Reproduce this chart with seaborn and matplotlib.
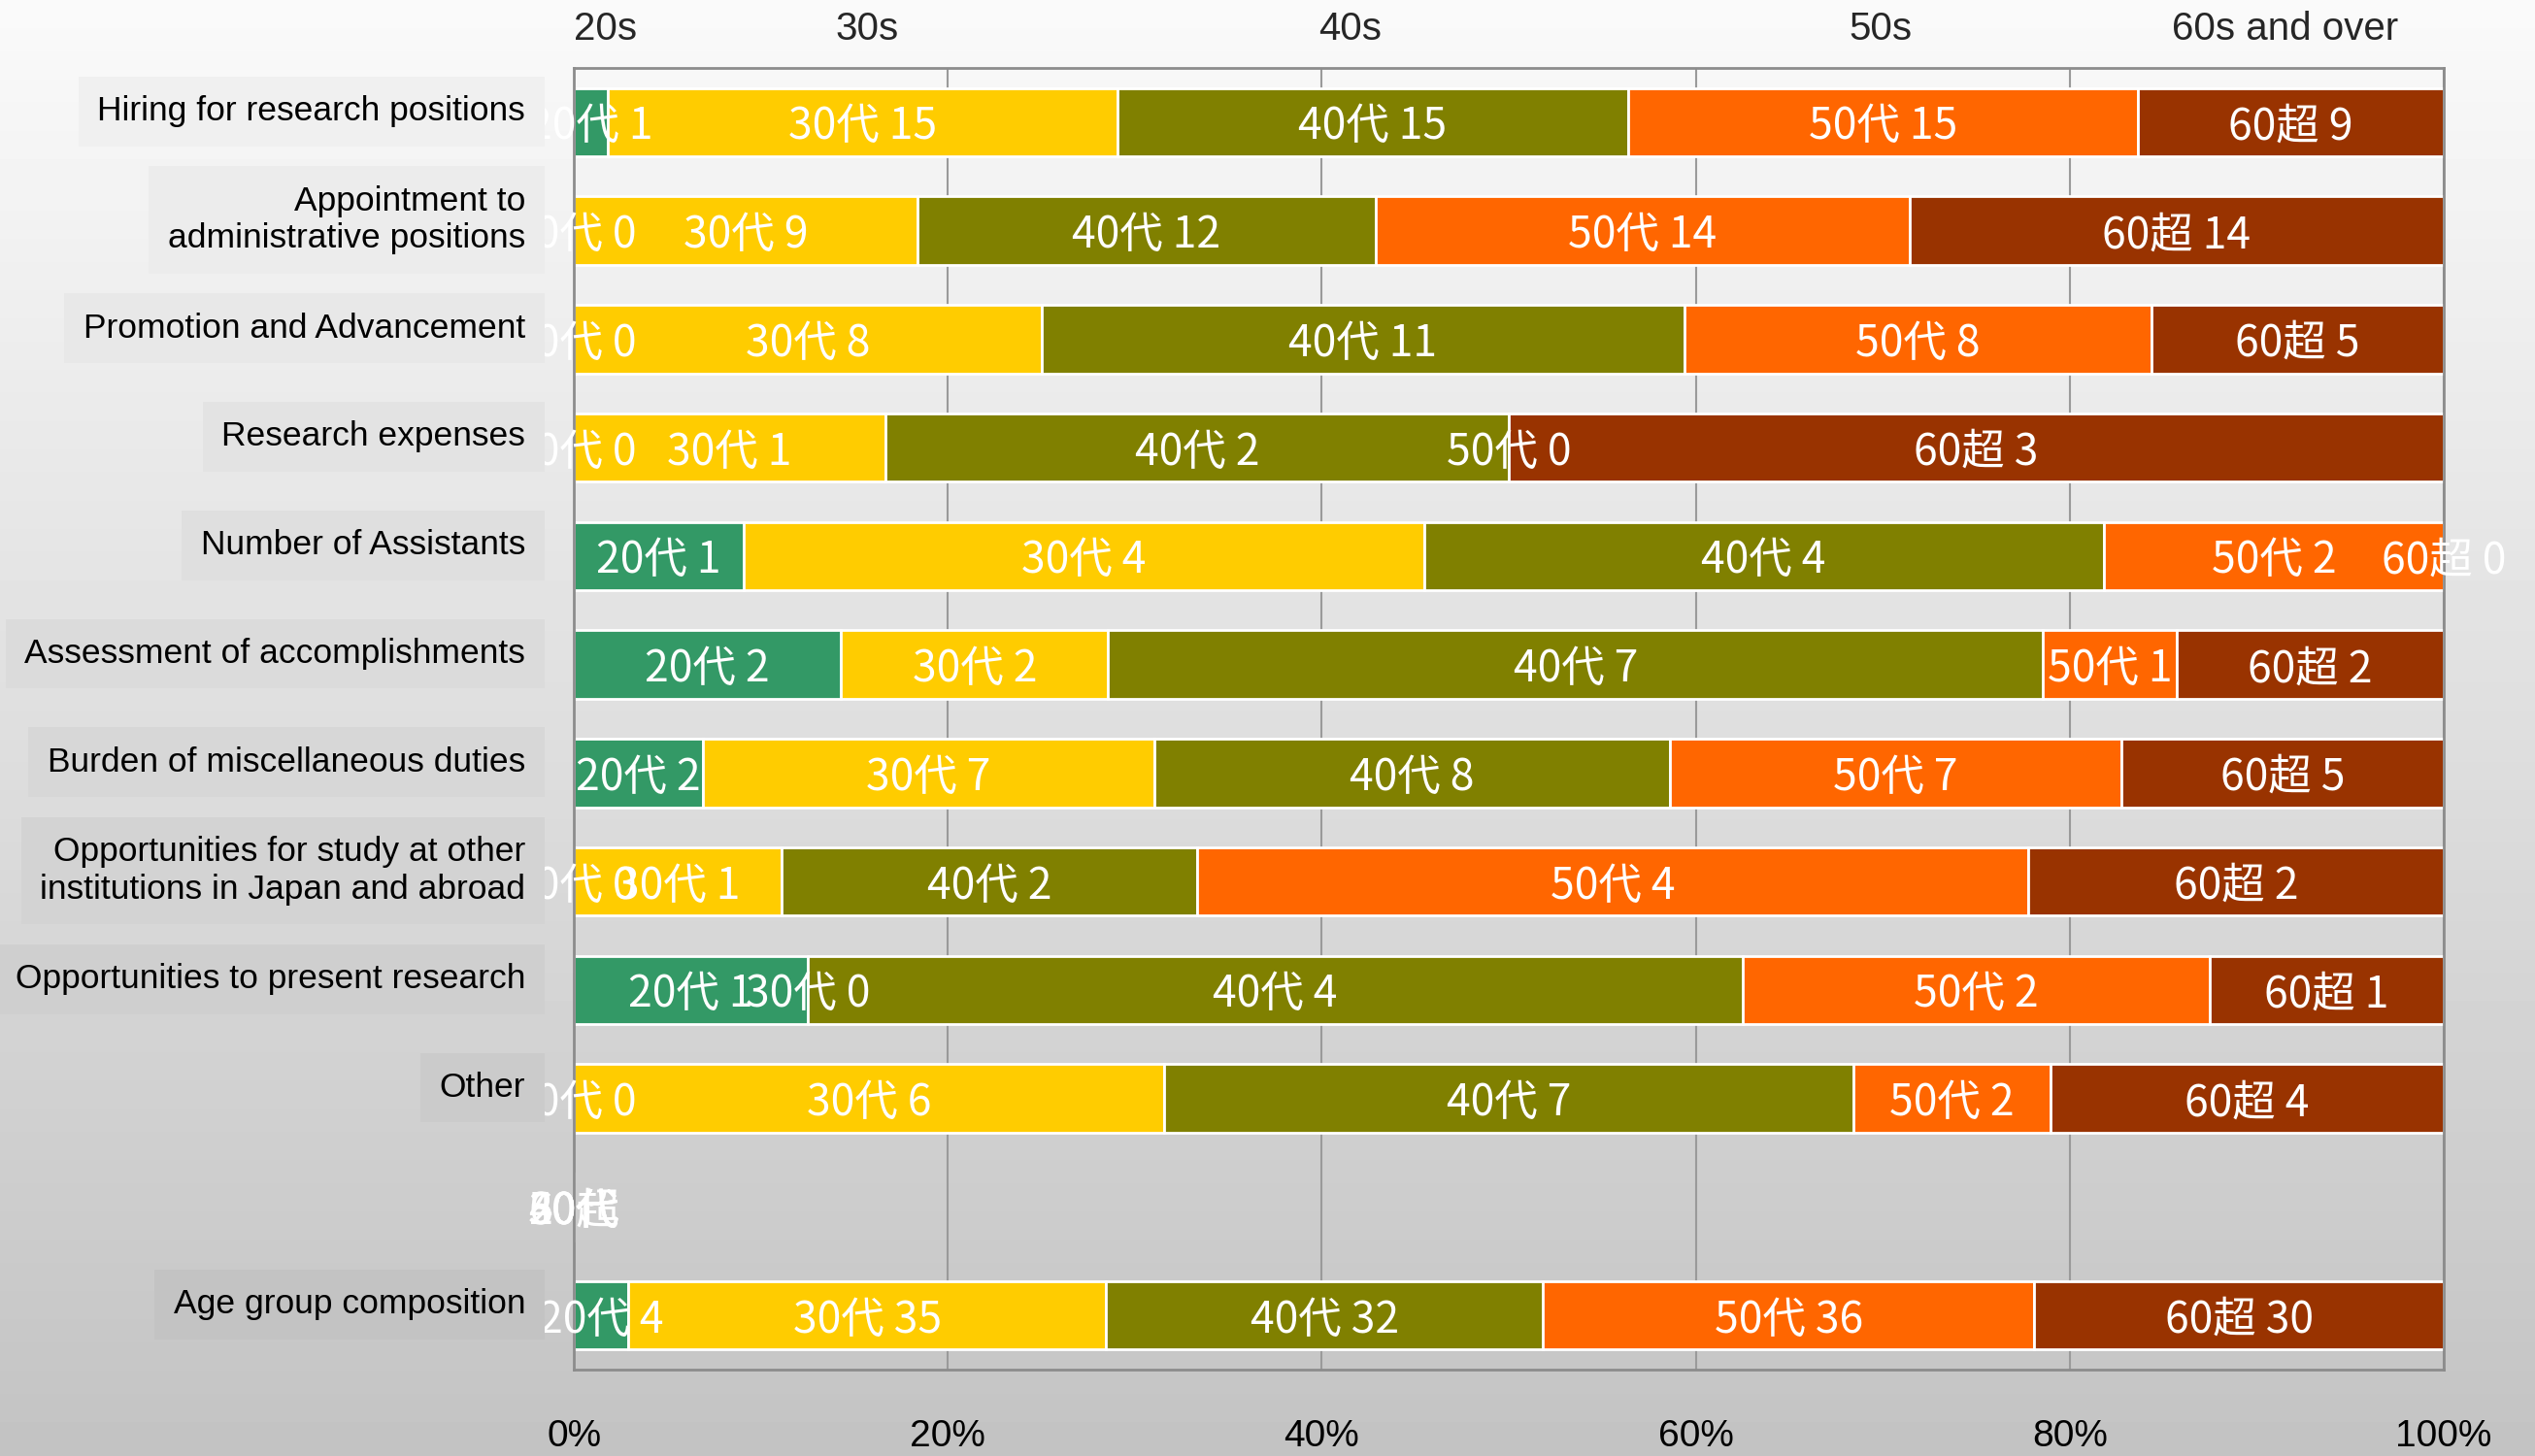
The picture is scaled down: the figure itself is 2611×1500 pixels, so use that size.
import matplotlib
matplotlib.use("Agg")
import matplotlib.pyplot as plt
import matplotlib.transforms as mtransforms
import numpy as np
import seaborn as sns

# rows of the chart, top to bottom (blank row before the last one)
items = ["Hiring for research positions",
         "Appointment to\nadministrative positions",
         "Promotion and Advancement",
         "Research expenses",
         "Number of Assistants",
         "Assessment of accomplishments",
         "Burden of miscellaneous duties",
         "Opportunities for study at other\ninstitutions in Japan and abroad",
         "Opportunities to present research",
         "Other",
         " ",
         "Age group composition"]

age_groups = ["20代", "30代", "40代", "50代", "60超"]
age_headers = ["20s", "30s", "40s", "50s", "60s and over"]

n_20s = [1, 0, 0, 0, 1, 2, 2, 0, 1, 0, np.nan, 4]
n_30s = [15, 9, 8, 1, 4, 2, 7, 1, 0, 6, np.nan, 35]
n_40s = [15, 12, 11, 2, 4, 7, 8, 2, 4, 7, np.nan, 32]
n_50s = [15, 14, 8, 0, 2, 1, 7, 4, 2, 2, np.nan, 36]
n_60s = [9, 14, 5, 3, 0, 2, 5, 2, 1, 4, np.nan, 30]

colors = ["#339966", "#FFCC00", "#808000", "#FF6600", "#993300"]
header_x = [1.7, 15.7, 41.5, 69.9, 91.5]   # where the age headers sit (% of axis)

sns.set_theme(style="white")
plt.rcParams['font.family'] = ['Liberation Sans', 'Noto Sans CJK JP', 'DejaVu Sans']
cjk = ['Noto Sans CJK JP', 'DejaVu Sans']

counts = np.array([n_20s, n_30s, n_40s, n_50s, n_60s], dtype=float).T
totals = np.nansum(counts, axis=1)
pct = np.zeros_like(counts)
ok = totals > 0
pct[ok] = counts[ok] / totals[ok, None] * 100
lefts = np.hstack([np.zeros((len(items), 1)), np.cumsum(pct, axis=1)[:, :-1]])

fig = plt.figure(figsize=(26.11, 15), dpi=100)

# grey gradient background
g_top, g_bot = 0.98, 0.765
bg = fig.add_axes([0, 0, 1, 1], zorder=-5)
bg.imshow(np.linspace(g_top, g_bot, 256)[:, None], cmap='gray', vmin=0, vmax=1,
          aspect='auto', extent=[0, 1, 0, 1])
bg.axis('off')

ax_l, ax_b, ax_r, ax_t = 0.2264, 0.0593, 0.964, 0.9533
ax = fig.add_axes([ax_l, ax_b, ax_r - ax_l, ax_t - ax_b])
ax.set_facecolor('none')

for j, grp in enumerate(age_groups):
    sns.barplot(x=pct[:, j], y=items, order=items, orient='h', color=colors[j],
                saturation=1, width=0.63, left=lefts[:, j], errorbar=None,
                edgecolor='white', linewidth=2, ax=ax)

ax.set_xlim(0, 100)
ax.set_ylim(len(items) - 0.5, -0.5)
ax.set_xticks(range(0, 101, 20))
ax.set_xticklabels([f"{t}%" for t in range(0, 101, 20)])
ax.tick_params(axis='x', length=0, pad=37, labelsize=28, labelcolor='black')
ax.set_yticks(np.arange(-0.5, len(items), 1))
ax.set_yticklabels([])
ax.tick_params(axis='y', direction='in', length=10, width=2, color='#8c8c8c')
ax.xaxis.grid(True, color='#9a9a9a', lw=1.5)
ax.set_axisbelow(True)
ax.set_xlabel('')
ax.set_ylabel('')
for s in ax.spines.values():
    s.set_visible(True)
    s.set_color('#8c8c8c')
    s.set_linewidth(2)

# labels inside the segments
for i in range(len(items)):
    blank = totals[i] == 0
    for j, grp in enumerate(age_groups):
        txt = grp if blank else f"{grp} {int(counts[i, j])}"
        ax.text(lefts[i, j] + pct[i, j] / 2, i + 0.04, txt, ha='center', va='center',
                color='white', fontsize=32, family=cjk, clip_on=False, zorder=5)

# category labels with boxes
trans = mtransforms.blended_transform_factory(ax.transAxes, ax.transData)
for i, name in enumerate(items):
    if not name.strip():
        continue
    y_fig = ax_t - (i + 0.5) / len(items) * (ax_t - ax_b)
    shade = g_bot + (g_top - g_bot) * y_fig - 0.022
    ax.text(-0.026, i - 0.1, name, transform=trans, ha='right', va='center',
            multialignment='right', fontsize=25.5, color='black', zorder=6,
            clip_on=False,
            bbox=dict(boxstyle='square,pad=0.55', fc=(shade, shade, shade), ec='none'))

# age headers on top
htrans = mtransforms.blended_transform_factory(ax.transData, ax.transAxes)
for x, h in zip(header_x, age_headers):
    ax.text(x, 1.03, h, transform=htrans, ha='center', va='center', fontsize=29)

fig.savefig("out.png", dpi=100)
